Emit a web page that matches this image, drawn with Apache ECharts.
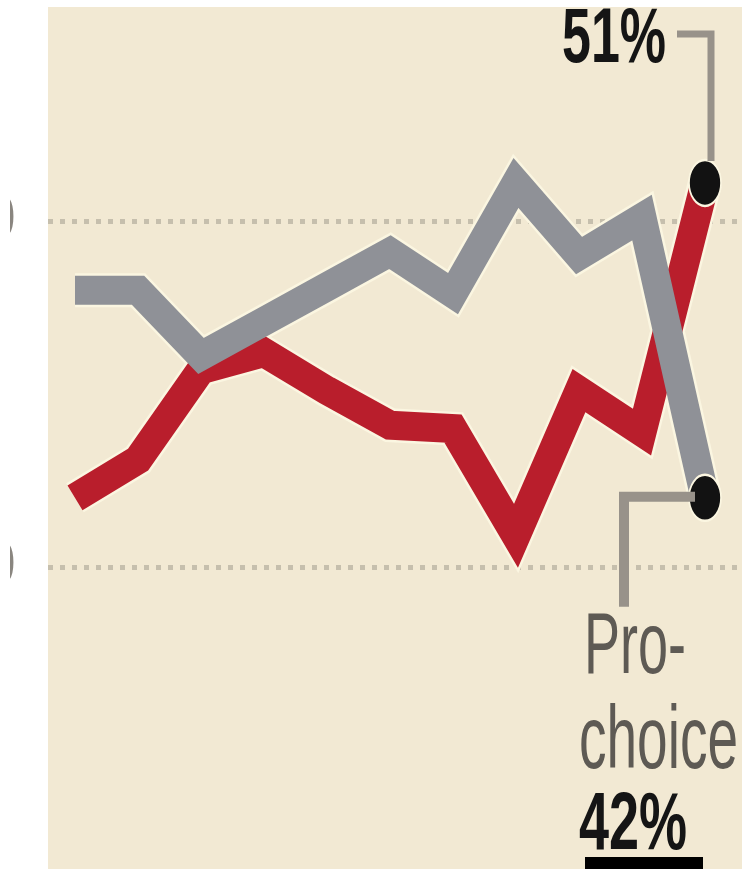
<!DOCTYPE html>
<html>
<head>
<meta charset="utf-8">
<script src="https://cdn.jsdelivr.net/npm/echarts@6/dist/echarts.min.js"></script>
<style>
html,body{margin:0;padding:0;background:#ffffff;}
#chart{width:742px;height:869px;}
</style>
</head>
<body>
<div id="chart"></div>
<script>
// ---- data ----
const years = ['1999','2000','2001','2002','2003','2004','2005','2006','2007','2008','2009'];
const proChoice = [48, 48, 46.1, 47.1, 48.1, 49.1, 47.9, 51.1, 49, 50.1, 42];
const proLife   = [42, 43.1, 45.7, 46.2, 45.1, 44.1, 44, 40.9, 45.1, 43.9, 51.1];
const yTickValues = [30, 40, 50, 60];
const lifeLabel = '51%';
const choiceLabelLines = ['Pro-', 'choice'];
const choiceValueLabel = '42%';

const RED = '#b91e2c';
const GRAY = '#8f9197';
const HALO = '#fbf6e1';

const chart = echarts.init(document.getElementById('chart'), null, {renderer: 'canvas'});

const pc = proChoice.map((v, i) => [i, v]);
const pl = proLife.map((v, i) => [i, v]);
const last = years.length - 1;

const option = {
  animation: false,
  backgroundColor: '#ffffff',
  grid: {
    left: 48, width: 694, top: -125, height: 1038,
    containLabel: false, outerBoundsMode: 'none',
    show: true, backgroundColor: '#f2e9d3', borderWidth: 0
  },
  xAxis: {
    type: 'value', min: -27 / 63, max: 10 + 37 / 63,
    show: false
  },
  yAxis: {
    type: 'value', min: yTickValues[0], max: yTickValues[yTickValues.length - 1], interval: 10,
    axisLine: {show: false}, axisTick: {show: false},
    splitLine: {show: true, lineStyle: {color: '#c6bfad', width: 5, type: [5, 7]}},
    axisLabel: {
      fontSize: 68, color: '#8a8680', margin: 32, fontFamily: 'Liberation Sans',
      padding: [0, 0, 18, 0]
    }
  },
  series: [
    {type: 'line', data: pl, symbol: 'none', z: 1, silent: true,
     lineStyle: {color: HALO, width: 34, join: 'miter', cap: 'butt'}},
    {type: 'line', data: pc, symbol: 'none', z: 1, silent: true,
     lineStyle: {color: HALO, width: 34, join: 'miter', cap: 'butt'}},
    {name: 'Pro-life', type: 'line', data: pl, symbol: 'none', z: 2,
     lineStyle: {color: RED, width: 29, join: 'miter', cap: 'butt'}},
    {name: 'Pro-choice', type: 'line', data: pc, symbol: 'none', z: 3,
     lineStyle: {color: GRAY, width: 29, join: 'miter', cap: 'butt'}},
    {type: 'scatter', z: 5, symbol: 'circle', symbolSize: [32, 46],
     data: [pl[last], pc[last]],
     itemStyle: {color: '#121212', opacity: 1, borderColor: HALO, borderWidth: 2}}
  ]
};
chart.setOption(option);

// annotations anchored on the end points
const pLife = chart.convertToPixel({gridIndex: 0}, pl[last]);
const pChoice = chart.convertToPixel({gridIndex: 0}, pc[last]);
const LEAD = '#98928a';

function txt(text, x, y, weight, fill, size, sy) {
  return {
    type: 'text', x: x, y: y, scaleY: sy, z: 50,
    style: {
      text: text, font: weight + ' ' + size + 'px "Liberation Sans"',
      fill: fill, textAlign: 'left', textVerticalAlign: 'middle',
      align: 'left', verticalAlign: 'middle'
    }
  };
}

chart.setOption({
  graphic: [
    {type: 'polyline', z: 40,
     shape: {points: [[pLife[0] - 28, 34], [pLife[0] + 6, 34], [pLife[0] + 6, pLife[1] - 22]]},
     style: {stroke: LEAD, lineWidth: 7, fill: null, lineJoin: 'miter'}},
    {type: 'polyline', z: 40,
     shape: {points: [[pChoice[0] - 10, pChoice[1] - 1], [pChoice[0] - 81, pChoice[1] - 1], [pChoice[0] - 81, pChoice[1] + 109]]},
     style: {stroke: LEAD, lineWidth: 10, fill: null, lineJoin: 'miter'}},
    txt(lifeLabel, pLife[0] - 143, 40, 'bold', '#151515', 52, 1.5),
    txt(choiceLabelLines[0], pChoice[0] - 121, pChoice[1] + 151, 'normal', '#5e5a54', 54, 1.63),
    txt(choiceLabelLines[1], pChoice[0] - 126, pChoice[1] + 245, 'normal', '#5e5a54', 55, 1.63),
    txt(choiceValueLabel, pChoice[0] - 126, pChoice[1] + 329, 'bold', '#151515', 54, 1.5),
    {type: 'rect', z: 45, shape: {x: pChoice[0] - 120, y: 857, width: 118, height: 12}, style: {fill: '#000000'}},
    {type: 'rect', z: 100, shape: {x: 0, y: 0, width: 10, height: 869}, style: {fill: '#ffffff'}},
    {type: 'rect', z: 100, shape: {x: 0, y: 0, width: 742, height: 7}, style: {fill: '#ffffff'}}
  ]
});
</script>
</body>
</html>
